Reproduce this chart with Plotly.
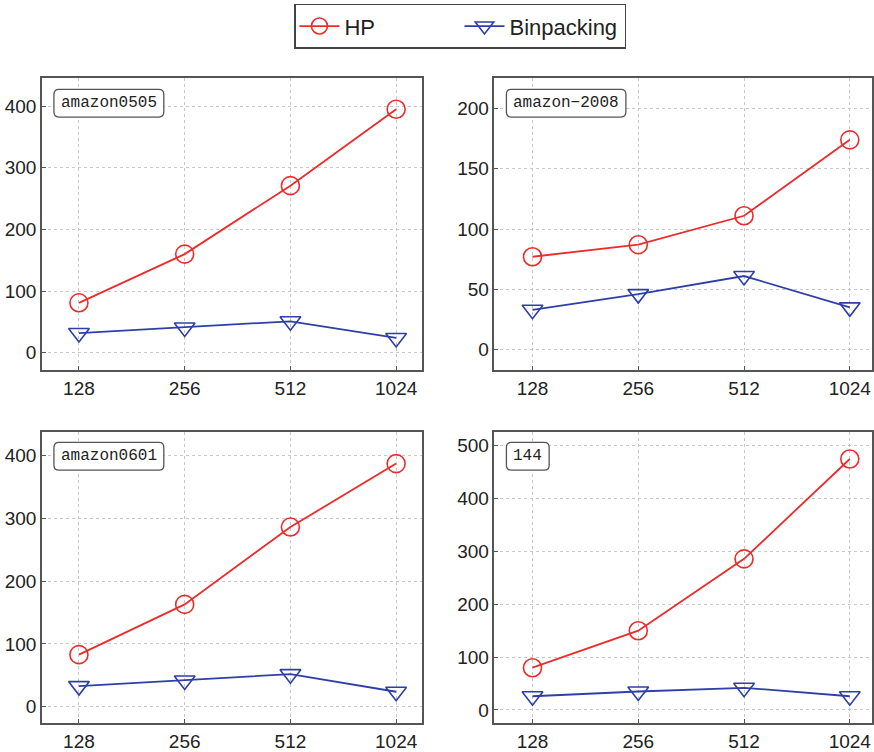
import plotly.graph_objects as go

sizes = ["128", "256", "512", "1024"]
panel_names = ["amazon0505", "amazon\u22122008", "amazon0601", "144"]
hp = [
    [81, 160, 271, 395],
    [77, 87, 111, 174],
    [83, 163, 286, 387],
    [80, 150, 286, 475],
]
binpacking = [
    [32, 41, 51, 24],
    [33, 46, 61, 35],
    [33, 42, 52, 24],
    [26, 35, 42, 26],
]
y_ranges = [[-28, 445], [-17, 225], [-26, 438], [-25, 527]]
y_ticks = [[0, 100, 200, 300, 400], [0, 50, 100, 150, 200],
           [0, 100, 200, 300, 400], [0, 100, 200, 300, 400, 500]]

RED = "#ee2b2b"
BLUE = "#2f3fa8"

W, H = 874, 752
# panel pixel boxes: (left, right, top, bottom)
boxes = [(42, 422, 79, 373), (495, 873, 79, 373),
         (42, 422, 435, 729), (495, 873, 435, 729)]

fig = go.Figure()
for i in range(4):
    ax = "" if i == 0 else str(i + 1)
    fig.add_trace(go.Scatter(
        x=sizes, y=hp[i], mode="lines+markers", name="HP",
        line=dict(color=RED, width=1.8),
        marker=dict(symbol="circle-open", size=18, color=RED, line=dict(width=1.6)),
        xaxis="x" + ax, yaxis="y" + ax, showlegend=(i == 0), legendgroup="hp"))
    fig.add_trace(go.Scatter(
        x=sizes, y=binpacking[i], mode="lines+markers", name="Binpacking",
        line=dict(color=BLUE, width=1.8),
        marker=dict(symbol="triangle-down-open", size=18, color=BLUE, line=dict(width=1.6)),
        xaxis="x" + ax, yaxis="y" + ax, showlegend=(i == 0), legendgroup="bp"))


def px(x):
    return x / W


def py(y):
    return 1 - y / H


layout = dict(
    width=W, height=H,
    margin=dict(l=0, r=0, t=0, b=0),
    paper_bgcolor="white", plot_bgcolor="white",
    font=dict(family="Liberation Sans, Arial", size=18, color="#222"),
    legend=dict(orientation="h", x=461 / W, xanchor="center", y=0.995, yanchor="top",
                bordercolor="#444", borderwidth=1.5, font=dict(size=22, color="#222"),
                itemwidth=40, entrywidth=110, bgcolor="white"),
    annotations=[],
    shapes=[],
)
for i, (l, r, t, b) in enumerate(boxes):
    ax = "" if i == 0 else str(i + 1)
    xd = [l / W, r / W]
    yd = [1 - b / H, 1 - t / H]
    xr = [-0.35, 3.24] if i % 2 == 0 else [-0.36, 3.21]
    layout["xaxis" + ax] = dict(
        domain=xd, anchor="y" + ax, type="category", range=xr,
        showline=True, mirror=True, linecolor="#555", linewidth=1.5,
        showgrid=True, gridcolor="#c8c8c8", griddash="dot", gridwidth=1,
        ticks="inside", ticklen=4, tickcolor="#555", tickfont=dict(size=19),
        zeroline=False)
    layout["yaxis" + ax] = dict(
        domain=yd, anchor="x" + ax, range=y_ranges[i], tickvals=y_ticks[i],
        showline=True, mirror=True, linecolor="#555", linewidth=1.5,
        showgrid=True, gridcolor="#c8c8c8", griddash="dot", gridwidth=1,
        ticks="inside", ticklen=4, tickcolor="#555", tickfont=dict(size=19),
        zeroline=False)
    # label box (rounded)
    bx0 = l + 12
    bw = len(panel_names[i]) * 9.6 + 14
    bx1 = bx0 + bw
    by0 = t + 11
    by1 = by0 + 28
    rr = 5
    path = (f"M {px(bx0+rr)},{py(by0)} L {px(bx1-rr)},{py(by0)} "
            f"Q {px(bx1)},{py(by0)} {px(bx1)},{py(by0+rr)} "
            f"L {px(bx1)},{py(by1-rr)} Q {px(bx1)},{py(by1)} {px(bx1-rr)},{py(by1)} "
            f"L {px(bx0+rr)},{py(by1)} Q {px(bx0)},{py(by1)} {px(bx0)},{py(by1-rr)} "
            f"L {px(bx0)},{py(by0+rr)} Q {px(bx0)},{py(by0)} {px(bx0+rr)},{py(by0)} Z")
    layout["shapes"].append(dict(type="path", path=path, xref="paper", yref="paper",
                                 line=dict(color="#555", width=1.3), fillcolor="white",
                                 layer="above"))
    layout["annotations"].append(dict(
        text=panel_names[i], xref="paper", yref="paper",
        x=px((bx0 + bx1) / 2), y=py((by0 + by1) / 2), xanchor="center", yanchor="middle",
        showarrow=False, font=dict(family="Liberation Mono, monospace", size=16, color="#222")))

fig.update_layout(**layout)
fig.write_html("out.html")
